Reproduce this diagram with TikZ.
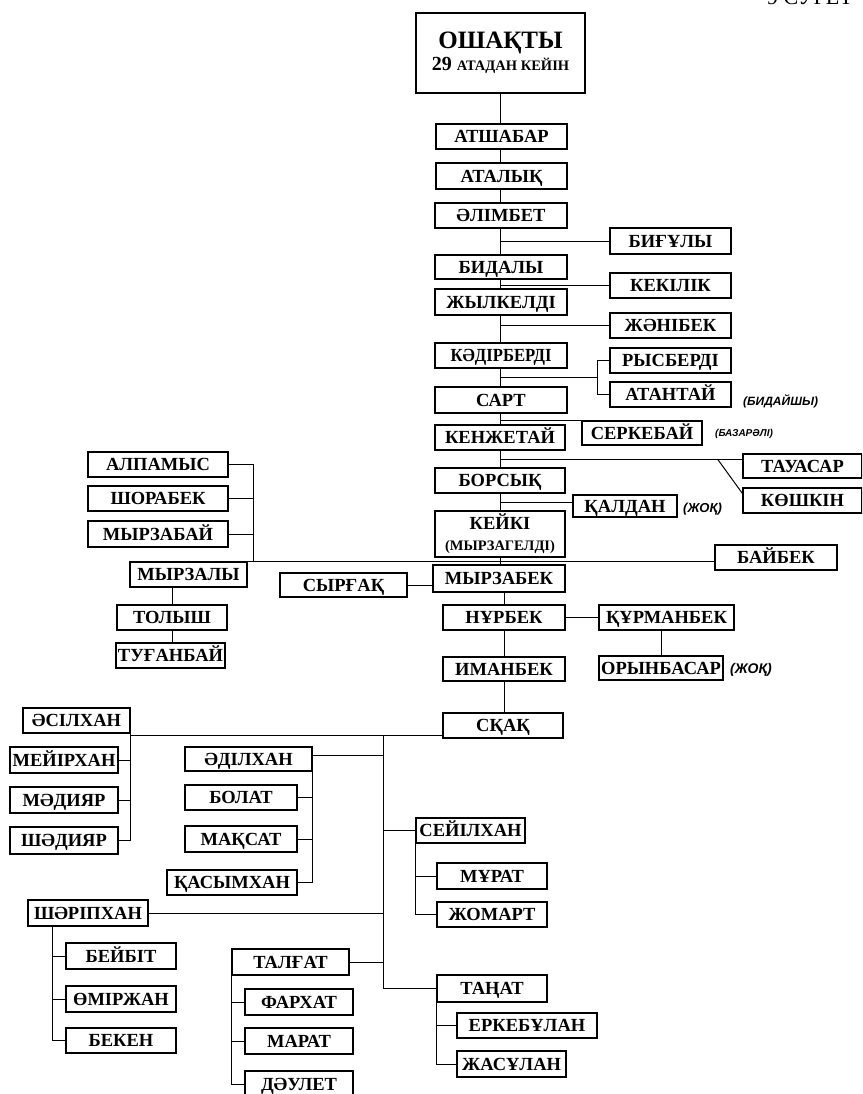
\documentclass[tikz,border=0pt]{standalone}
\usepackage{fontspec}
\setmainfont{Liberation Serif}
\newfontfamily\notefont{Liberation Sans}
\usetikzlibrary{calc}
\tikzset{
  boxbase/.style={draw, line width=1.1pt, inner sep=0pt, font=\bfseries\fontsize{18.5}{19}\selectfont},
  box/.style={boxbase, text height=12.3pt, text depth=0pt},
  conn/.style={line width=1pt},
  note/.style={anchor=west, inner sep=0pt, font=\notefont\bfseries\itshape\fontsize{12}{13}\selectfont},
}
\newcommand{\bx}[6]{\node[box, minimum width={(#4-#2)*1pt}, minimum height={(#5-#3)*1pt}] (#1) at ({(#2+#4)/2},{-(#3+#5)/2}) {#6};}
\begin{document}
\begin{tikzpicture}[x=1pt,y=1pt]
\useasboundingbox (0,0) rectangle (862,-1094);
\clip (0,0) rectangle (862,-1094);
\node[anchor=base west, inner sep=0pt, font=\fontsize{22}{22}\selectfont] (title) at (767,-5) {9 СУРЕТ};
% spine column
\node[boxbase, minimum width=169pt, minimum height=80pt, align=center] (osh) at (500.5,-53) {{\fontsize{25}{27}\selectfont ОШАҚТЫ}\\[3pt]{\fontsize{20}{22}\selectfont 29 {\fontsize{14.5}{16}\selectfont АТАДАН КЕЙІН}}};
\bx{atsh}{436}{124}{567}{149}{АТШАБАР}
\bx{atal}{436}{163}{567}{189}{АТАЛЫҚ}
\bx{alim}{435}{203}{567}{228}{ӘЛІМБЕТ}
\bx{bidal}{435}{255}{567}{279}{БИДАЛЫ}
\bx{zhylk}{435}{289}{567}{315}{ЖЫЛКЕЛДІ}
\bx{kadir}{435}{343}{567}{368}{\scalebox{0.9}[1]{КӘДІРБЕРДІ}}
\bx{sart}{435}{387}{567}{413}{САРТ}
\bx{kenzh}{435}{425}{565}{450}{КЕНЖЕТАЙ}
\bx{bors}{435}{468}{565}{493}{БОРСЫҚ}
\node[boxbase, minimum width=130pt, minimum height=46pt, align=center] (keyki) at (500,-534) {КЕЙКІ\\[2pt]{\fontsize{14.5}{15}\selectfont (МЫРЗАГЕЛДІ)}};
\bx{myrzabek}{433}{565}{565}{592}{МЫРЗАБЕК}
\bx{nurbek}{443}{605}{565}{630}{НҰРБЕК}
\bx{imanbek}{443}{657}{565}{681}{ИМАНБЕК}
\bx{skak}{443}{713}{563}{738}{СҚАҚ}
% right branches
\bx{bigul}{610}{228}{731}{254}{БИҒҰЛЫ}
\bx{kekil}{610}{273}{731}{298}{КЕКІЛІК}
\bx{zhanibek}{610}{313}{731}{338}{ЖӘНІБЕК}
\bx{rysb}{610}{348}{731}{373}{РЫСБЕРДІ}
\bx{atant}{610}{382}{731}{407}{АТАНТАЙ}
\bx{serk}{582}{421}{702}{445}{СЕРКЕБАЙ}
\bx{tauas}{743}{454}{862}{478}{ТАУАСАР}
\bx{koshk}{743}{488}{862}{513}{КӨШКІН}
\bx{kaldan}{573}{495}{677}{517}{ҚАЛДАН}
\bx{baybek}{715}{545}{837}{570}{БАЙБЕК}
\bx{kurman}{599}{605}{734}{630}{ҚҰРМАНБЕК}
\bx{orynb}{599}{656}{723}{680}{ОРЫНБАСАР}
\node[note] (n1) at (743,-401) {(БИДАЙШЫ)};
\node[note, font=\notefont\bfseries\itshape\fontsize{10}{11}\selectfont] (n2) at (715,-434) {(БАЗАРӘЛІ)};
\node[note, font=\notefont\bfseries\itshape\fontsize{13}{14}\selectfont] (n3) at (683,-509) {(ЖОҚ)};
\node[note, font=\notefont\bfseries\itshape\fontsize{14}{15}\selectfont] (n4) at (730,-670) {(ЖОҚ)};
% left upper
\bx{alpam}{88}{452}{228}{477}{АЛПАМЫС}
\bx{shorab}{88}{486}{228}{511}{ШОРАБЕК}
\bx{myrzabay}{88}{521}{228}{547}{МЫРЗАБАЙ}
\bx{myrzaly}{130}{562}{247}{587}{МЫРЗАЛЫ}
\bx{tolysh}{117}{605}{227}{630}{ТОЛЫШ}
\bx{tuganb}{116}{643}{225}{668}{ТУҒАНБАЙ}
\bx{syrgak}{280}{573}{407}{597}{СЫРҒАҚ}
% lower
\bx{asil}{23}{708}{130}{733}{ӘСІЛХАН}
\bx{meyir}{10}{747}{118}{773}{МЕЙІРХАН}
\bx{madiyar}{10}{787}{118}{813}{МӘДИЯР}
\bx{shadiyar}{10}{827}{118}{854}{ШӘДИЯР}
\bx{adil}{185}{747}{312}{771}{ӘДІЛХАН}
\bx{bolat}{185}{785}{297}{810}{БОЛАТ}
\bx{maksat}{185}{826}{297}{852}{МАҚСАТ}
\bx{kasym}{167}{870}{297}{895}{ҚАСЫМХАН}
\bx{seyil}{416}{818}{525}{843}{СЕЙІЛХАН}
\bx{murat}{437}{863}{547}{889}{МҰРАТ}
\bx{zhomart}{437}{902}{547}{927}{ЖОМАРТ}
\bx{sharip}{28}{900}{148}{926}{ШӘРІПХАН}
\bx{beybit}{66}{943}{176}{969}{БЕЙБІТ}
\bx{omirzh}{66}{986}{176}{1012}{ӨМІРЖАН}
\bx{beken}{66}{1028}{176}{1053}{БЕКЕН}
\bx{talgat}{232}{949}{349}{975}{ТАЛҒАТ}
\bx{farkhat}{245}{989}{353}{1015}{ФАРХАТ}
\bx{marat}{245}{1028}{353}{1054}{МАРАТ}
\bx{dauilet}{245}{1071}{353}{1097}{ДӘУЛЕТ}
\bx{tanat}{437}{975}{547}{1002}{ТАҢАТ}
\bx{erkeb}{457}{1013}{597}{1038}{ЕРКЕБҰЛАН}
\bx{zhasulan}{457}{1051}{566}{1077}{ЖАСҰЛАН}
% coordinates
\coordinate (sp) at (500,0);
\coordinate (rb) at ($(rysb.west)!0.5!(atant.west)+(-12,0)$);
\coordinate (kd) at ($(tauas.west)+(-25,7)$);
\coordinate (lbr) at (253,-562);
\coordinate (mv) at (383,-735);
\coordinate (shb) at ($(sharip.south west)+(25,0)$);
% spine
\foreach \a/\b in {osh/atsh,atsh/atal,atal/alim,alim/bidal,bidal/zhylk,zhylk/kadir,kadir/sart,sart/kenzh,kenzh/bors,bors/keyki,keyki/myrzabek}
  \draw[conn] (\a.south -| sp) -- (\b.north -| sp);
\draw[conn] (nurbek.north) -- (nurbek.north |- myrzabek.south);
\draw[conn] (nurbek.south) -- (imanbek.north);
\draw[conn] (imanbek.south) -- (imanbek.south |- skak.north);
% right branches
\draw[conn] (bigul.west) -- (bigul.west -| sp);
\draw[conn] (kekil.west) -- (kekil.west -| sp);
\draw[conn] (zhanibek.west) -- (zhanibek.west -| sp);
\draw[conn] (rysb.west) -| (rb) |- (atant.west);
\draw[conn] (rb) -- (rb -| sp);
\draw[conn] (serk.north west) -- (serk.north west -| sp);
\draw[conn] ([yshift=7]tauas.west) -- ([yshift=7]tauas.west -| sp);
\draw[conn] (kd) -- ([yshift=7]koshk.west);
\draw[conn] ([yshift=4]kaldan.west) -- ([yshift=4]kaldan.west -| sp);
\draw[conn] (myrzaly.north west) -- (myrzaly.north west -| baybek.west);
\draw[conn] (nurbek.east) -- (nurbek.east -| kurman.west);
\draw[conn] (orynb.north) -- (orynb.north |- kurman.south);
% left upper
\draw[conn] (alpam.east) -| (lbr);
\draw[conn] (shorab.east) -- (shorab.east -| lbr);
\draw[conn] (myrzabay.east) -- (myrzabay.east -| lbr);
\draw[conn] (syrgak.east) -- (syrgak.east -| myrzabek.west);
\draw[conn] (tolysh.north) -- (tolysh.north |- myrzaly.south);
\draw[conn] (tolysh.south) -- (tolysh.south |- tuganb.north);
% lower
\draw[conn] ([yshift=3]skak.south west) -- ([yshift=3]skak.south west -| asil.east);
\draw[conn] (asil.south east) |- (shadiyar.east);
\draw[conn] (meyir.east) -- (meyir.east -| asil.east);
\draw[conn] (madiyar.east) -- (madiyar.east -| asil.east);
\draw[conn] (mv) -- (mv |- tanat.west) -- (tanat.west);
\draw[conn] ([yshift=4]adil.east) -- ([yshift=4]adil.east -| mv);
\draw[conn] (adil.east) |- (kasym.east);
\draw[conn] (bolat.east) -- (bolat.east -| adil.east);
\draw[conn] (maksat.east) -- (maksat.east -| adil.east);
\draw[conn] (seyil.west) -- (seyil.west -| mv);
\draw[conn] (seyil.south west) |- (zhomart.west);
\draw[conn] (murat.west) -- (murat.west -| seyil.west);
\draw[conn] (sharip.east) -- (sharip.east -| mv);
\draw[conn] (shb) |- (beken.west);
\draw[conn] (beybit.west) -- (beybit.west -| shb);
\draw[conn] (omirzh.west) -- (omirzh.west -| shb);
\draw[conn] (talgat.east) -- (talgat.east -| mv);
\draw[conn] (talgat.south west) |- (dauilet.west);
\draw[conn] (farkhat.west) -- (farkhat.west -| talgat.west);
\draw[conn] (marat.west) -- (marat.west -| talgat.west);
\draw[conn] (tanat.south west) |- (zhasulan.west);
\draw[conn] (erkeb.west) -- (erkeb.west -| tanat.west);
\end{tikzpicture}
\end{document}
